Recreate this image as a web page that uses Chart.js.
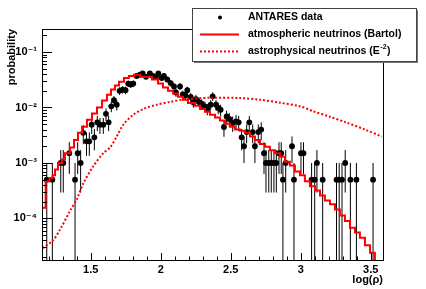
<!DOCTYPE html>
<html>
<head>
<meta charset="utf-8">
<script src="https://cdn.jsdelivr.net/npm/chart.js@4.4.0/dist/chart.umd.min.js"></script>
<style>
  html, body { margin: 0; padding: 0; background: #fff; }
  canvas { display: block; }
</style>
</head>
<body>
<canvas id="chart" width="426" height="289"></canvas>
<script>
// values

// ANTARES data points: log(rho) and probability
const dataX = [1.186, 1.226, 1.286, 1.304, 1.347, 1.388, 1.407, 1.428, 1.447, 1.470,
  1.490, 1.507, 1.526, 1.547, 1.566, 1.590, 1.609, 1.628, 1.647, 1.666,
  1.686, 1.706, 1.728, 1.749, 1.768, 1.786, 1.804, 1.828, 1.852, 1.871,
  1.895, 1.923, 1.943, 1.966, 1.983, 2.007, 2.023, 2.047, 2.071, 2.095,
  2.109, 2.138, 2.157, 2.176, 2.190, 2.214, 2.233, 2.252, 2.276, 2.293,
  2.316, 2.333, 2.357, 2.371, 2.395, 2.411, 2.428, 2.452, 2.471, 2.490,
  2.514, 2.538, 2.557, 2.578, 2.595, 2.614, 2.633, 2.657, 2.673, 2.697,
  2.718, 2.738, 2.752, 2.772, 2.790, 2.809, 2.826, 2.845, 2.861, 2.873,
  2.893, 2.938, 2.952, 3.002, 3.020, 3.078, 3.100, 3.116, 3.157, 3.256,
  3.275, 3.295, 3.318, 3.355, 3.398, 3.517];
const dataY = [5e-4, 5e-4, 1e-3, 1e-3, 1.5e-3, 5e-4, 1.5e-3, 1e-3, 3.5e-3, 2.45e-3,
  2.45e-3, 4.9e-3, 2.9e-3, 5.4e-3, 4.9e-3, 4.9e-3, 7.7e-3, 5.4e-3, 1.05e-2, 1.35e-2,
  1.12e-2, 2.0e-2, 2.1e-2, 2.05e-2, 2.7e-2, 2.6e-2, 2.7e-2, 3.7e-2, 3.9e-2, 4.1e-2,
  3.6e-2, 4.1e-2, 3.7e-2, 3.55e-2, 4.1e-2, 3.4e-2, 3.7e-2, 3.2e-2, 2.76e-2, 2.4e-2,
  1.87e-2, 2.4e-2, 1.72e-2, 1.65e-2, 2.05e-2, 1.55e-2, 1.24e-2, 1.42e-2, 1.24e-2, 1.17e-2,
  1.05e-2, 9.4e-3, 1.12e-2, 1.59e-2, 1.12e-2, 9.8e-3, 9.1e-3, 4.45e-3, 6.9e-3, 6.2e-3,
  5.25e-3, 5.6e-3, 5.4e-3, 2.9e-3, 2.0e-3, 3.6e-3, 5.4e-3, 3.6e-3, 2.0e-3, 3.6e-3,
  4.0e-3, 1.5e-3, 1e-3, 1e-3, 1e-3, 1e-3, 1e-3, 1.5e-3, 1.5e-3, 5e-4,
  1e-3, 2.0e-3, 5e-4, 1.5e-3, 1.5e-3, 5e-4, 5e-4, 1e-3, 5e-4, 5e-4,
  5e-4, 5e-4, 1e-3, 5e-4, 5e-4, 5e-4];
// rough event count behind the normalised data (for the poisson error bars)
const totalEvents = 2000;

// atmospheric (Bartol) histogram: bin start and content
const atmX = [1.152, 1.178, 1.206, 1.228, 1.245, 1.266, 1.295, 1.316, 1.352, 1.381,
  1.409, 1.438, 1.473, 1.509, 1.545, 1.581, 1.616, 1.645, 1.673, 1.702,
  1.738, 1.773, 1.809, 1.852, 1.938, 1.981, 2.016, 2.052, 2.088, 2.123,
  2.159, 2.195, 2.245, 2.281, 2.316, 2.352, 2.388, 2.423, 2.459, 2.495,
  2.530, 2.566, 2.602, 2.638, 2.673, 2.709, 2.745, 2.780, 2.816, 2.852,
  2.888, 2.923, 2.959, 2.995, 3.030, 3.066, 3.102, 3.138, 3.173, 3.209,
  3.245, 3.280, 3.316, 3.352, 3.388, 3.423, 3.459, 3.495, 3.530, 3.566];
const atmY = [1.9e-4, 1.55e-4, 4.7e-4, 5.3e-4, 6e-4, 7.6e-4, 1e-3, 1.15e-3, 1.5e-3, 1.9e-3,
  2.6e-3, 3.5e-3, 4.5e-3, 6e-3, 7.8e-3, 1e-2, 1.33e-2, 1.7e-2, 2.1e-2, 2.5e-2,
  2.9e-2, 3.4e-2, 3.7e-2, 3.9e-2, 3.6e-2, 3.2e-2, 2.7e-2, 2.3e-2, 2.0e-2, 1.78e-2,
  1.56e-2, 1.38e-2, 1.2e-2, 1.07e-2, 9.4e-3, 8.4e-3, 7.4e-3, 6.6e-3, 5.8e-3, 5.1e-3,
  4.5e-3, 4.0e-3, 3.8e-3, 3.5e-3, 3.0e-3, 2.6e-3, 2.2e-3, 1.95e-3, 1.7e-3, 1.5e-3,
  1.3e-3, 1.05e-3, 9e-4, 7e-4, 6e-4, 4.7e-4, 3.8e-4, 3.2e-4, 2.6e-4, 2.1e-4,
  1.8e-4, 1.45e-4, 1.13e-4, 9e-5, 6.8e-5, 5.6e-5, 4.5e-5, 3.3e-5, 2.4e-5, 1e-7];

// astrophysical E^-2 curve
const astroX = [1.157, 1.233, 1.281, 1.352, 1.400, 1.447, 1.518, 1.590, 1.638, 1.686,
  1.733, 1.804, 1.876, 1.971, 2.066, 2.186, 2.373, 2.566, 2.709, 2.852,
  2.995, 3.088, 3.209, 3.323, 3.459, 3.578];
const astroY = [2.9e-5, 4.1e-5, 6.3e-5, 1.37e-4, 2.2e-4, 4.3e-4, 8.7e-4, 1.5e-3, 1.9e-3, 3e-3,
  4.9e-3, 7.4e-3, 9.4e-3, 1.12e-2, 1.26e-2, 1.42e-2, 1.5e-2, 1.48e-2, 1.38e-2, 1.22e-2,
  1.05e-2, 8.6e-3, 6.8e-3, 5.4e-3, 4e-3, 3e-3];

const xTicks = [1.5, 2, 2.5, 3, 3.5];
const yTicks = [1e-4, 1e-3, 1e-2, 1e-1];
const yTickLabels = ['10\u207B\u2074', '10\u207B\u00B3', '10\u207B\u00B2', '10\u207B\u00B9'];
const legendLabels = ['ANTARES data', 'atmospheric neutrinos (Bartol)', 'astrophysical neutrinos (E'];

const FONT = '"Liberation Sans", "DejaVu Sans", Arial, sans-serif';
const RED = '#ff0000';

// ROOT-like frame, inner ticks, error bars and legend box
const rootStyle = {
  id: 'rootStyle',
  beforeDatasetsDraw(chart) {
    const { ctx, chartArea: a, scales: { x, y } } = chart;
    ctx.save();
    ctx.beginPath();
    ctx.rect(a.left, a.top, a.right - a.left, a.bottom - a.top);
    ctx.clip();
    ctx.strokeStyle = '#000';
    ctx.lineWidth = 1;
    dataX.forEach((vx, i) => {
      const v = dataY[i];
      const err = Math.sqrt(v * totalEvents) / totalEvents;
      const px = x.getPixelForValue(vx);
      const top = y.getPixelForValue(v + err);
      const bot = v - err > 1e-9 ? y.getPixelForValue(v - err) : a.bottom;
      ctx.beginPath();
      ctx.moveTo(px, top);
      ctx.lineTo(px, bot);
      ctx.stroke();
    });
    ctx.restore();
  },
  afterDatasetsDraw(chart) {
    const { ctx, chartArea: a, scales: { x, y } } = chart;
    ctx.save();
    ctx.strokeStyle = '#000';
    ctx.lineWidth = 1;
    ctx.strokeRect(Math.round(a.left) + 0.5, Math.round(a.top) + 0.5,
      Math.round(a.right - a.left), Math.round(a.bottom - a.top));
    ctx.beginPath();
    // x ticks every 0.1, major every 0.5
    for (let t = 12; t <= 35; t++) {
      const v = t / 10;
      const px = Math.round(x.getPixelForValue(v)) + 0.5;
      if (px < a.left || px > a.right) continue;
      const len = t % 5 === 0 ? 7 : 3.5;
      ctx.moveTo(px, a.bottom);
      ctx.lineTo(px, a.bottom - len);
    }
    // y ticks: decades and 2..9 minors
    for (let e = -5; e <= 0; e++) {
      for (let m = 1; m <= 9; m++) {
        const v = m * Math.pow(10, e);
        if (v < y.min || v > y.max) continue;
        const py = Math.round(y.getPixelForValue(v)) + 0.5;
        const len = m === 1 ? 10 : 5;
        ctx.moveTo(a.left, py);
        ctx.lineTo(a.left + len, py);
      }
    }
    ctx.stroke();
    ctx.restore();
  },
  afterDraw(chart) {
    const { ctx } = chart;
    const bx = 192.5, by = 8.5, bw = 224, bh = 53;
    ctx.save();
    // shadow + box
    ctx.fillStyle = '#777';
    ctx.fillRect(bx + 1.5, by + 1.5, bw, bh);
    ctx.fillStyle = '#fff';
    ctx.fillRect(bx, by, bw, bh);
    ctx.strokeStyle = '#444';
    ctx.lineWidth = 1;
    ctx.strokeRect(bx, by, bw, bh);
    const rows = [17.5, 34.5, 51.5];
    // marker
    ctx.fillStyle = '#000';
    ctx.beginPath();
    ctx.arc(220, rows[0], 2, 0, Math.PI * 2);
    ctx.fill();
    // solid line
    ctx.strokeStyle = RED;
    ctx.lineWidth = 2;
    ctx.beginPath();
    ctx.moveTo(200, rows[1]);
    ctx.lineTo(239, rows[1]);
    ctx.stroke();
    // dotted line
    ctx.setLineDash([2, 2]);
    ctx.beginPath();
    ctx.moveTo(200, rows[2]);
    ctx.lineTo(239, rows[2]);
    ctx.stroke();
    ctx.setLineDash([]);
    // labels
    ctx.fillStyle = '#000';
    ctx.textBaseline = 'middle';
    ctx.font = 'bold 10.5px ' + FONT;
    ctx.fillText(legendLabels[0], 248, rows[0]);
    ctx.fillText(legendLabels[1], 248, rows[1]);
    ctx.fillText(legendLabels[2], 248, rows[2]);
    let w = ctx.measureText(legendLabels[2]).width;
    ctx.font = 'bold 7px ' + FONT;
    ctx.fillText('-2', 248 + w + 0.5, rows[2] - 4);
    const sw = ctx.measureText('-2').width;
    ctx.font = 'bold 10.5px ' + FONT;
    ctx.fillText(')', 248 + w + sw + 1, rows[2]);
    ctx.restore();
  }
};

const labelFont = { family: FONT, size: 11, weight: 'bold' };

new Chart(document.getElementById('chart'), {
  type: 'line',
  data: {
    datasets: [
      {
        label: 'atmospheric neutrinos (Bartol)',
        data: atmX.map((v, i) => ({ x: v, y: atmY[i] })),
        borderColor: RED,
        borderWidth: 2,
        stepped: 'after',
        pointRadius: 0,
        fill: false,
        order: 0
      },
      {
        label: 'astrophysical neutrinos (E-2)',
        data: astroX.map((v, i) => ({ x: v, y: astroY[i] })),
        borderColor: RED,
        borderWidth: 2,
        borderDash: [2, 2],
        pointRadius: 0,
        tension: 0.3,
        fill: false,
        order: 0
      },
      {
        label: 'ANTARES data',
        data: dataX.map((v, i) => ({ x: v, y: dataY[i] })),
        showLine: false,
        pointRadius: 2.9,
        pointBackgroundColor: '#000',
        pointBorderWidth: 0,
        order: 1
      }
    ]
  },
  options: {
    responsive: false,
    animation: false,
    devicePixelRatio: 1,
    layout: { padding: { top: 29, right: 43, left: 0, bottom: 0 } },
    plugins: { legend: { display: false }, tooltip: { enabled: false } },
    scales: {
      x: {
        type: 'linear',
        min: 1.152,
        max: 3.588,
        afterBuildTicks: s => { s.ticks = xTicks.map(v => ({ value: v })); },
        afterFit: s => { s.height = 29; },
        grid: { display: false, drawTicks: false },
        border: { display: false },
        ticks: { color: '#000', font: labelFont, padding: 3, maxRotation: 0, autoSkip: false,
          callback: v => String(v) },
        title: { display: true, text: 'log(\u03C1)', align: 'end', color: '#000', font: labelFont,
          padding: { top: 0, bottom: 2 } }
      },
      y: {
        type: 'logarithmic',
        min: 1.78e-5,
        max: 0.26,
        afterBuildTicks: s => { s.ticks = yTicks.map(v => ({ value: v })); },
        afterFit: s => { s.width = 42; },
        grid: { display: false, drawTicks: false },
        border: { display: false },
        ticks: { color: '#000', font: labelFont, padding: 5, autoSkip: false,
          callback: (v, i) => yTickLabels[i] },
        title: { display: true, text: 'probability', align: 'end', color: '#000', font: labelFont,
          padding: { top: 5, bottom: 0 } }
      }
    }
  },
  plugins: [rootStyle]
});
</script>
</body>
</html>
